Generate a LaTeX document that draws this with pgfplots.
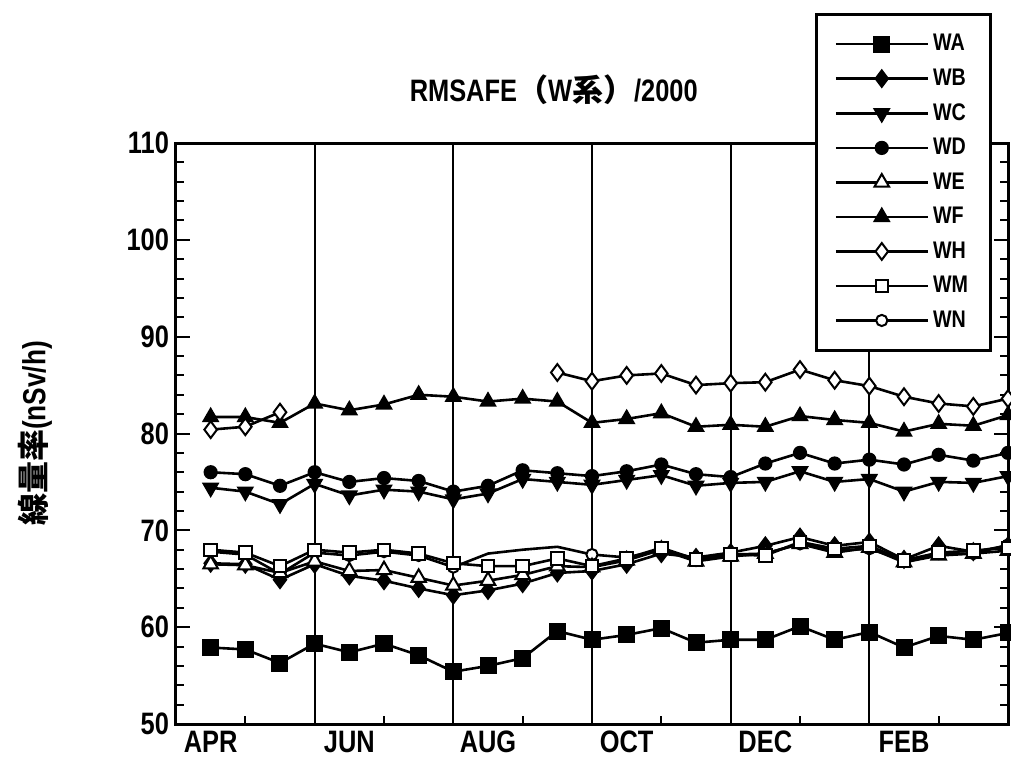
\documentclass[border=0pt]{standalone}
\usepackage{pgfplots}
\usepackage{pgfplotstable}
\pgfplotsset{compat=1.18}
\usepackage{fontspec}
\setmainfont{Liberation Sans}[FakeStretch=0.82]
\newfontfamily\cjk{Noto Sans CJK JP}

% half-monthly readings, x = 1 (mid APR) ... 24 (end of MAR)
\pgfplotstableread{
x  WA   WB   WC   WD   WE   WF   WH   WM   WN
1  57.9 66.6 74.4 76.0 66.5 81.7 80.4 68.0 67.8
2  57.7 66.5 74.0 75.8 66.4 81.7 80.7 67.7 67.5
3  56.3 64.9 72.7 74.6 65.6 81.1 82.2 66.3 65.5
4  58.3 66.5 74.8 76.0 66.8 83.1 nan  68.0 67.7
5  57.4 65.3 73.6 75.0 65.8 82.4 nan  67.7 67.4
6  58.3 64.8 74.2 75.4 65.9 83.0 nan  68.0 67.8
7  57.1 64.0 74.0 75.1 65.1 84.0 nan  67.6 67.4
8  55.4 63.3 73.2 74.0 64.3 83.8 nan  66.6 66.2
9  56.0 63.8 73.8 74.6 64.8 83.3 nan  66.3 67.6
10 56.8 64.5 75.3 76.2 65.4 83.6 nan  66.3 68.0
11 59.6 65.6 75.0 75.9 66.3 83.3 86.3 67.1 68.3
12 58.7 65.8 74.7 75.6 66.2 81.1 85.4 66.3 67.5
13 59.2 66.5 75.2 76.1 66.9 81.5 86.0 67.1 67.2
14 59.9 67.6 75.7 76.8 68.0 82.1 86.2 68.2 68.0
15 58.4 67.2 74.6 75.8 66.8 80.7 85.0 67.0 67.1
16 58.7 67.7 74.9 75.5 67.3 80.9 85.2 67.5 67.5
17 58.7 68.4 75.0 76.9 67.6 80.7 85.3 67.4 67.6
18 60.1 69.3 76.1 78.0 68.6 81.8 86.6 68.8 68.6
19 58.7 68.4 75.0 76.9 67.7 81.4 85.5 68.1 67.9
20 59.5 68.8 75.3 77.3 68.2 81.1 84.9 68.4 68.1
21 57.9 67.0 74.0 76.8 66.7 80.2 83.8 66.9 66.9
22 59.1 68.4 75.0 77.8 67.4 81.0 83.1 67.7 67.6
23 58.7 67.8 74.9 77.2 67.6 80.8 82.8 67.9 67.6
24 59.4 68.4 75.6 78.0 67.9 81.9 83.6 68.2 68.5
}\dosedata

\pgfplotsset{
  pA/.style={black, line width=1.3pt, mark=square*, mark size=3.8pt, mark options={solid, line width=0.9pt}},
  pB/.style={black, line width=1.3pt, mark=diamond*, mark size=4.2pt, mark options={solid, line width=0.9pt}},
  pC/.style={black, line width=1.3pt, mark=triangle*, mark size=4.2pt, mark options={solid, rotate=180, line width=0.9pt}},
  pD/.style={black, line width=1.3pt, mark=*, mark size=3.1pt, mark options={solid, line width=0.9pt}},
  pE/.style={black, line width=1.3pt, mark=triangle*, mark size=4.2pt, mark options={solid, fill=white, line width=1pt}},
  pF/.style={black, line width=1.3pt, mark=triangle*, mark size=4.2pt, mark options={solid, line width=0.9pt}},
  pH/.style={black, line width=1.3pt, mark=diamond*, mark size=4.2pt, mark options={solid, fill=white, line width=1pt}},
  pM/.style={black, line width=1.3pt, mark=square*, mark size=3.1pt, mark options={solid, fill=white, line width=1pt}},
  pN/.style={black, line width=1.3pt, mark=*, mark size=2.8pt, mark options={solid, fill=white, line width=1pt}},
}

\begin{document}
\begin{tikzpicture}
\begin{axis}[
  scale only axis,
  width=416pt, height=290.5pt,
  xmin=0, xmax=24, ymin=50, ymax=110,
  unbounded coords=jump,
  axis line style={line width=1.5pt},
  tick style={black, line width=1pt},
  major tick length=7pt, minor tick length=4pt,
  xtick={0,4,...,20},
  xticklabels={APR,JUN,AUG,OCT,DEC,FEB},
  xticklabel style={xshift=17.33pt, font=\fontsize{15.5}{17}\selectfont\bfseries},
  minor xtick={2,6,...,22},
  xtick pos=left,
  xmajorgrids,
  major grid style={black, line width=1pt},
  ytick={50,60,...,110},
  minor ytick={52,54,...,108},
  yticklabel style={font=\fontsize{15.5}{17}\selectfont\bfseries},
  /pgf/number format/assume math mode=true,
  title={RMSAFE{\cjk （}W{\cjk 系）}/2000},
  title style={at={(axis description cs:0.454,1.0706)}, anchor=center, font=\fontsize{15.5}{17}\selectfont\bfseries},
  ylabel={{\cjk 線量率}(nSv/h)},
  ylabel style={at={(axis description cs:-0.1695,0.5)}, anchor=center, font=\fontsize{16}{18}\selectfont\bfseries},
  legend image code/.code={\draw[mark repeat=2,mark phase=2] plot coordinates {(0pt,0pt) (23pt,0pt) (46pt,0pt)};},
  legend style={at={(axis description cs:0.768,1.224)}, anchor=north west,
    draw=black, line width=1.5pt, fill=white,
    font=\fontsize{12}{13}\selectfont\bfseries,
    inner xsep=9pt, inner ysep=8pt, row sep=3.5pt,
    cells={anchor=west}},
  legend cell align=left,
]
\addlegendimage{pA}\addlegendentry{WA}
\addlegendimage{pB}\addlegendentry{WB}
\addlegendimage{pC}\addlegendentry{WC}
\addlegendimage{pD}\addlegendentry{WD}
\addlegendimage{pE}\addlegendentry{WE}
\addlegendimage{pF}\addlegendentry{WF}
\addlegendimage{pH}\addlegendentry{WH}
\addlegendimage{pM}\addlegendentry{WM}
\addlegendimage{pN}\addlegendentry{WN}

\addplot[pN, forget plot, mark indices={1,2,3,4,5,6,7,8,12,13,14,15,16,17,18,19,20,21,22,23,24}] table[x=x, y=WN] {\dosedata};
\addplot[pB, forget plot] table[x=x, y=WB] {\dosedata};
\addplot[pE, forget plot] table[x=x, y=WE] {\dosedata};
\addplot[pM, forget plot] table[x=x, y=WM] {\dosedata};
\addplot[pA, forget plot] table[x=x, y=WA] {\dosedata};
\addplot[pC, forget plot] table[x=x, y=WC] {\dosedata};
\addplot[pD, forget plot] table[x=x, y=WD] {\dosedata};
\addplot[pF, forget plot] table[x=x, y=WF] {\dosedata};
\addplot[pH, forget plot] table[x=x, y=WH] {\dosedata};
\end{axis}
\pgfresetboundingbox
\path[use as bounding box] (current axis.south west) ++(-88pt,-21.5pt) rectangle +(505.5pt,383.5pt);
\end{tikzpicture}
\end{document}
